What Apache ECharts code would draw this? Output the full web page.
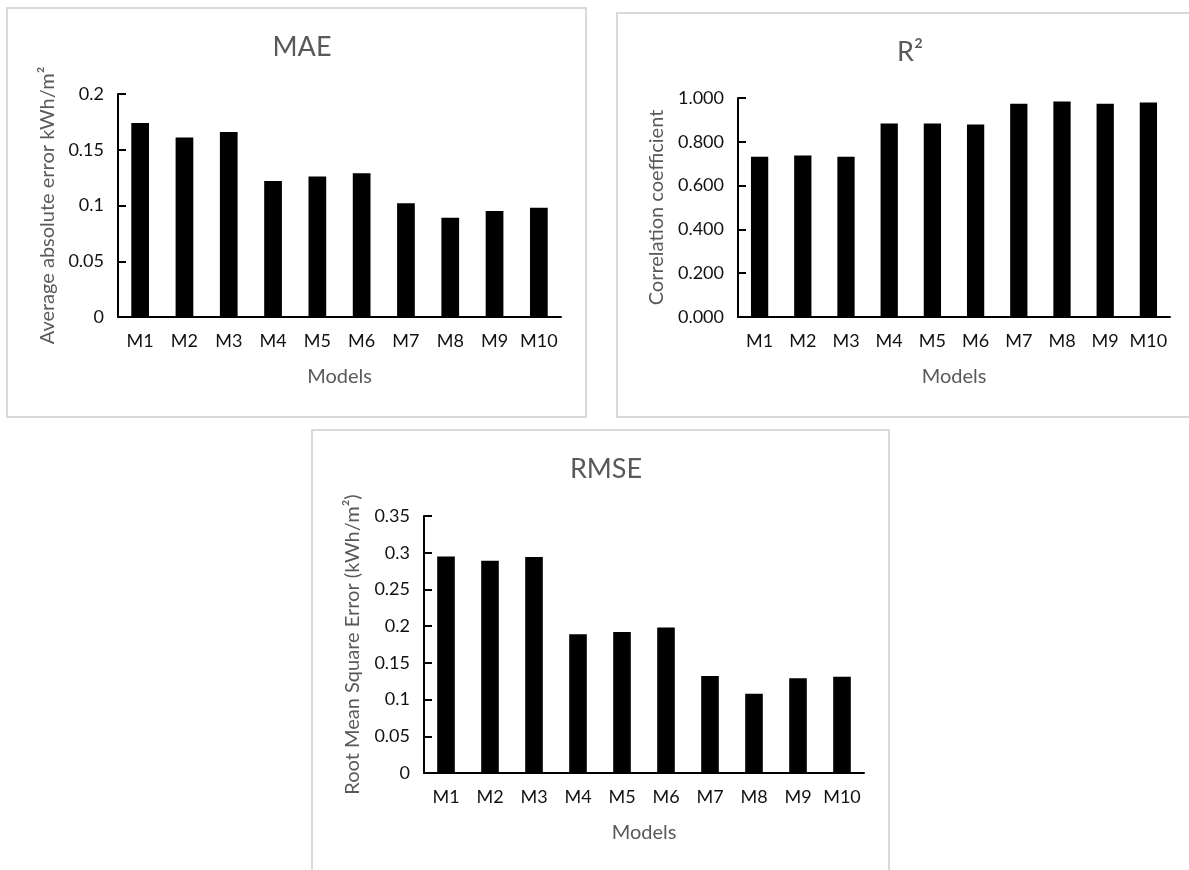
<!DOCTYPE html>
<html>
<head>
<meta charset="utf-8">
<title>MAE, R² and RMSE by model</title>
<script src="https://cdn.jsdelivr.net/npm/echarts@6/dist/echarts.min.js"></script>
<style>
  html, body { margin: 0; padding: 0; background: #ffffff; }
  #chart { width: 1189px; height: 870px; }
</style>
</head>
<body>
<div id="chart"></div>
<script>
// Model names shared by all three panels
const models = ['M1', 'M2', 'M3', 'M4', 'M5', 'M6', 'M7', 'M8', 'M9', 'M10'];

// Mean absolute error (kWh/m²)
const maeValues = [0.174, 0.161, 0.166, 0.122, 0.126, 0.129, 0.102, 0.089, 0.095, 0.098];

// Coefficient of determination
const r2Values = [0.732, 0.737, 0.732, 0.884, 0.884, 0.879, 0.974, 0.984, 0.974, 0.980];

// Root mean square error (kWh/m²)
const rmseValues = [0.295, 0.289, 0.294, 0.189, 0.192, 0.198, 0.132, 0.108, 0.129, 0.131];

const FONT = 'Lato, "Open Sans", "Noto Sans", sans-serif';
const GREY = '#595959';
const INK = '#111111';

const chart = echarts.init(document.getElementById('chart'), null, { renderer: 'canvas' });

function catAxis(gridIndex) {
  return {
    type: 'category',
    gridIndex: gridIndex,
    data: models,
    name: 'Models',
    nameLocation: 'middle',
    nameGap: 50,
    nameTextStyle: { color: GREY, fontSize: 20, fontFamily: FONT },
    axisLine: { lineStyle: { color: '#000', width: 2 } },
    axisTick: { show: false },
    axisLabel: { color: INK, fontSize: 18, fontFamily: FONT, margin: 15, interval: 0 }
  };
}

function valAxis(gridIndex, name, max, interval, gap, fmt) {
  return {
    type: 'value',
    gridIndex: gridIndex,
    min: 0,
    max: max,
    interval: interval,
    name: name,
    nameLocation: 'middle',
    nameGap: gap,
    nameTextStyle: { color: GREY, fontSize: 20, fontFamily: FONT },
    axisLine: { show: true, lineStyle: { color: '#000', width: 2 } },
    axisTick: { show: true, inside: true, length: 8, lineStyle: { color: '#000', width: 2 } },
    splitLine: { show: false },
    axisLabel: { color: INK, fontSize: 18, fontFamily: FONT, margin: 14, formatter: fmt }
  };
}

function barSeries(idx, values) {
  return {
    type: 'bar',
    xAxisIndex: idx,
    yAxisIndex: idx,
    data: values,
    barWidth: '40%',
    itemStyle: { color: '#000' },
    silent: true
  };
}

function panelBorder(x, y, w, h) {
  return {
    type: 'rect',
    shape: { x: x, y: y, width: w, height: h },
    style: { fill: 'none', stroke: '#d9d9d9', lineWidth: 2 },
    silent: true,
    z: -1
  };
}

const option = {
  backgroundColor: '#ffffff',
  animation: false,
  title: [
    { text: 'MAE', left: 297, top: 29, textAlign: 'center',
      textStyle: { color: GREY, fontSize: 27, fontWeight: 'normal', fontFamily: FONT } },
    { text: 'R²', left: 905, top: 34, textAlign: 'center',
      textStyle: { color: GREY, fontSize: 27, fontWeight: 'normal', fontFamily: FONT } },
    { text: 'RMSE', left: 601, top: 451, textAlign: 'center',
      textStyle: { color: GREY, fontSize: 27, fontWeight: 'normal', fontFamily: FONT } }
  ],
  graphic: [
    panelBorder(7, 8, 579, 409),
    panelBorder(617, 13, 580, 404),
    panelBorder(312, 430, 577, 460)
  ],
  grid: [
    { left: 118, top: 94, width: 443, height: 223 },
    { left: 738, top: 98, width: 432, height: 219 },
    { left: 424, top: 516, width: 440, height: 257 }
  ],
  xAxis: [catAxis(0), catAxis(1), catAxis(2)],
  yAxis: [
    valAxis(0, 'Average absolute error kWh/m²', 0.2, 0.05, 60, null),
    valAxis(1, 'Correlation coefficient', 1, 0.2, 71, function (v) { return v.toFixed(3); }),
    valAxis(2, 'Root Mean Square Error (kWh/m²)', 0.35, 0.05, 61, null)
  ],
  series: [
    barSeries(0, maeValues),
    barSeries(1, r2Values),
    barSeries(2, rmseValues)
  ]
};

chart.setOption(option);
</script>
</body>
</html>
